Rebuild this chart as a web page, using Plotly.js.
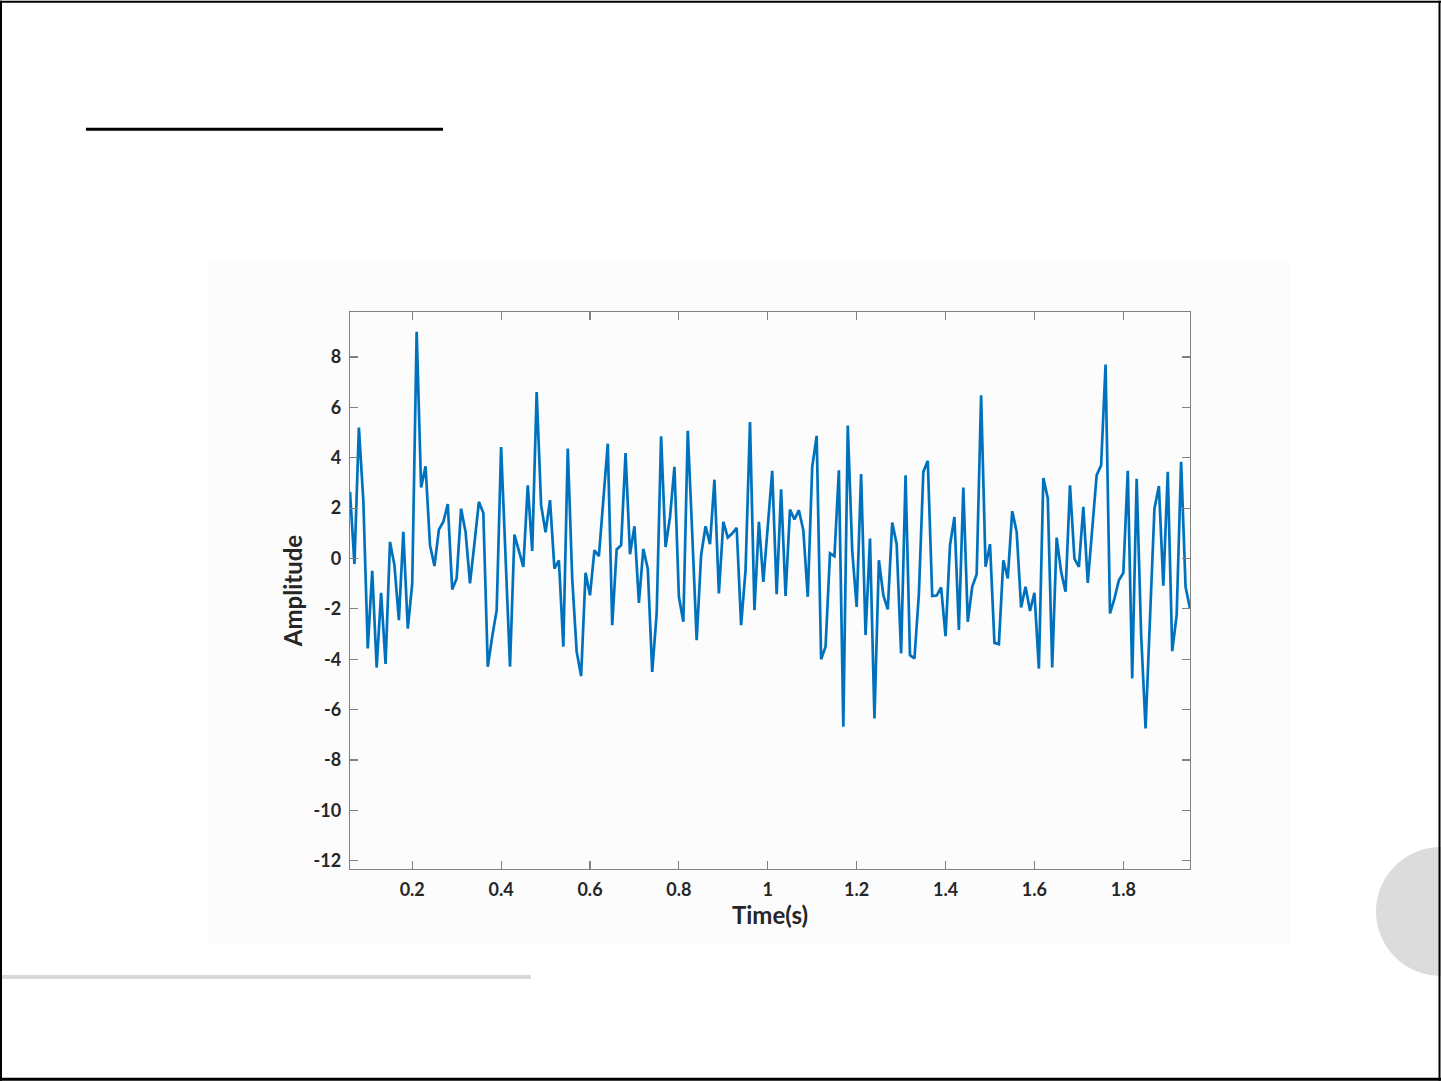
<!DOCTYPE html>
<html>
<head>
<meta charset="utf-8">
<script src="https://cdn.plot.ly/plotly-3.0.1.min.js"></script>
<style>
  html, body { margin: 0; padding: 0; background: #ffffff; }
  #chart { width: 1441px; height: 1081px; }
</style>
</head>
<body>
<div id="chart"></div>
<script>
// ---- data ----
const timeStart = 0.06;   // s, first sample
const timeStep = 0.01;    // s, sampling interval
const amplitude = [
  2.65, -0.22, 5.2, 2.3, -3.57, -0.49, -4.33, -1.36, -4.19, 0.66,
  -0.26, -2.45, 1.06, -2.78, -1.0, 9.0, 2.82, 3.66, 0.53, -0.3,
  1.15, 1.46, 2.16, -1.23, -0.79, 1.98, 1.06, -0.99, 0.6, 2.25,
  1.81, -4.3, -3.1, -2.05, 4.43, 0.0, -4.3, 0.95, 0.26, -0.33,
  2.91, 0.3, 6.61, 2.12, 1.04, 2.32, -0.4, -0.07, -3.5, 4.37,
  -0.8, -3.7, -4.67, -0.57, -1.46, 0.33, 0.09, 2.3, 4.56, -2.65,
  0.36, 0.53, 4.19, 0.17, 1.28, -1.76, 0.38, -0.4, -4.5, -2.18,
  4.85, 0.46, 1.65, 3.64, -1.52, -2.51, 5.07, 1.0, -3.24, 0.13,
  1.28, 0.57, 3.13, -1.39, 1.46, 0.83, 0.99, 1.22, -2.65, -0.46,
  5.42, -2.05, 1.46, -0.93, 1.39, 3.48, -1.42, 2.75, -1.49, 1.94,
  1.55, 1.92, 1.12, -1.52, 3.64, 4.87, -4.0, -3.5, 0.2, 0.09,
  3.5, -6.68, 5.28, 0.3, -1.92, 3.35, -3.04, 0.79, -6.35, -0.07,
  -1.46, -2.02, 1.43, 0.57, -3.77, 3.31, -3.84, -3.97, -1.4, 3.44,
  3.88, -1.49, -1.47, -1.15, -3.08, 0.53, 1.65, -2.84, 2.82, -2.51,
  -1.12, -0.62, 6.48, -0.33, 0.57, -3.35, -3.4, -0.07, -0.79, 1.88,
  1.06, -1.94, -1.12, -2.08, -1.36, -4.37, 3.2, 2.4, -4.33, 0.83,
  -0.53, -1.32, 2.91, 0.0, -0.33, 2.05, -0.97, 1.26, 3.31, 3.7,
  7.7, -2.18, -1.59, -0.86, -0.57, 3.48, -4.76, 3.17, -3.0, -6.75,
  -2.05, 1.98, 2.88, -1.08, 3.44, -3.68, -2.25, 3.84, -1.12, -1.98
];
const xTickValues = [0.2, 0.4, 0.6, 0.8, 1, 1.2, 1.4, 1.6, 1.8];
const xTickLabels = ['0.2', '0.4', '0.6', '0.8', '1', '1.2', '1.4', '1.6', '1.8'];
const yTickValues = [-12, -10, -8, -6, -4, -2, 0, 2, 4, 6, 8];
const yTickLabels = ['-12', '-10', '-8', '-6', '-4', '-2', '0', '2', '4', '6', '8'];
const xTitle = 'Time(s)';
const yTitle = 'Amplitude';

// ---- layout geometry (pixels) ----
const W = 1441, H = 1081;
const PL = 350, PR = 1190, PT = 311.5, PB = 869;
const pw = PR - PL, ph = PB - PT;
const fx = x => (x - PL) / pw;
const fy = y => (PB - y) / ph;

const shapes = [
  // faint figure background
  {type: 'rect', xref: 'paper', yref: 'paper', x0: fx(208), x1: fx(1290), y0: fy(945), y1: fy(260),
   fillcolor: '#fcfcfc', line: {width: 0}, layer: 'below'},
  // slide title underline
  {type: 'line', xref: 'paper', yref: 'paper', x0: fx(86), x1: fx(443), y0: fy(128.5), y1: fy(128.5),
   line: {color: '#000000', width: 3}},
  // bottom grey bar
  {type: 'rect', xref: 'paper', yref: 'paper', x0: fx(0), x1: fx(531), y0: fy(979), y1: fy(975),
   fillcolor: '#d9d9d9', line: {width: 0}},
  // grey circle on the right
  {type: 'circle', xref: 'paper', yref: 'paper', x0: fx(1376), x1: fx(1505), y0: fy(976), y1: fy(847),
   fillcolor: '#dcdcdc', line: {width: 0}},
  // page border
  {type: 'line', xref: 'paper', yref: 'paper', x0: fx(0), x1: fx(1441), y0: fy(1), y1: fy(1),
   line: {color: '#000000', width: 2}},
  {type: 'line', xref: 'paper', yref: 'paper', x0: fx(1), x1: fx(1), y0: fy(0), y1: fy(1081),
   line: {color: '#000000', width: 2}},
  {type: 'line', xref: 'paper', yref: 'paper', x0: fx(1439.5), x1: fx(1439.5), y0: fy(0), y1: fy(1081),
   line: {color: '#000000', width: 2}},
  {type: 'line', xref: 'paper', yref: 'paper', x0: fx(0), x1: fx(1441), y0: fy(1079.5), y1: fy(1079.5),
   line: {color: '#000000', width: 3}}
];

const trace = {
  type: 'scatter',
  mode: 'lines',
  y: amplitude,
  x0: timeStart,
  dx: timeStep,
  line: {color: '#0072BD', width: 2.7},
  hoverinfo: 'x+y'
};

const fontFamily = 'Lato, "Open Sans", sans-serif';
const tickFont = {family: fontFamily, size: 18, color: '#262626', weight: 'bold'};
const axisCommon = {
  showline: true, linecolor: '#808080', linewidth: 1.3, mirror: 'ticks',
  ticks: 'inside', ticklen: 8, tickwidth: 1.2, tickcolor: '#808080',
  showgrid: false, zeroline: false, tickfont: tickFont, tickmode: 'array'
};

const layout = {
  width: W, height: H,
  margin: {l: PL, r: W - PR, t: PT, b: H - PB, pad: 0},
  paper_bgcolor: '#ffffff',
  plot_bgcolor: '#ffffff',
  showlegend: false,
  xaxis: Object.assign({}, axisCommon, {
    range: [0.06, 1.95],
    tickvals: xTickValues, ticktext: xTickLabels,
    ticklabelstandoff: 4,
    title: {text: xTitle, font: {family: fontFamily, size: 24, color: '#262626', weight: 'bold'}, standoff: 0}
  }),
  yaxis: Object.assign({}, axisCommon, {
    range: [-12.33, 9.79],
    tickvals: yTickValues, ticktext: yTickLabels,
    ticklabelstandoff: 4,
    title: {text: yTitle, font: {family: fontFamily, size: 24, color: '#262626', weight: 'bold'}, standoff: 4}
  }),
  shapes: shapes
};

Plotly.newPlot('chart', [trace], layout, {displayModeBar: false, staticPlot: true});
</script>
</body>
</html>
